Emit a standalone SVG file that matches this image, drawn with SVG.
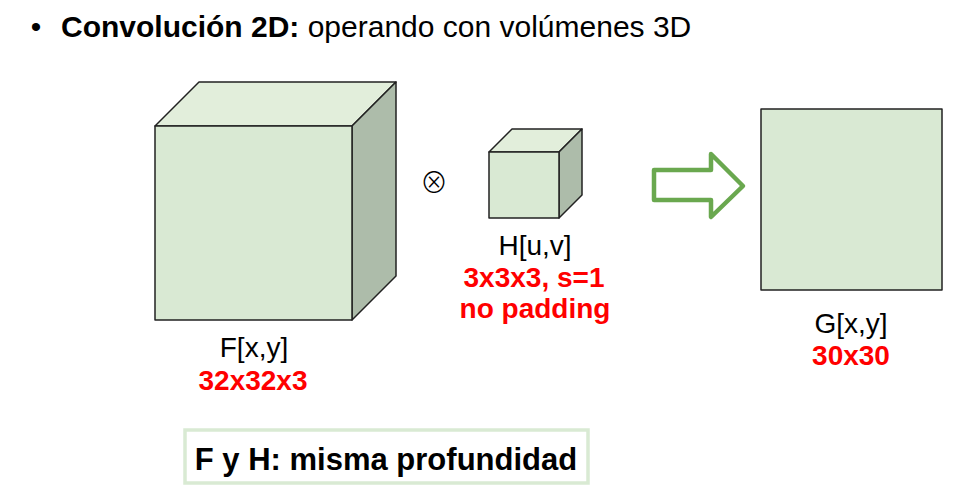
<svg xmlns="http://www.w3.org/2000/svg" width="953" height="490" viewBox="0 0 953 490">
<style>
.front{fill:#d9e9d3;stroke:#222;stroke-width:1.5;stroke-linejoin:round}
.top{fill:#e2eedb;stroke:#222;stroke-width:1.5;stroke-linejoin:round}
.side{fill:#adbcaa;stroke:#222;stroke-width:1.5;stroke-linejoin:round}
.lbl{font-family:"Liberation Sans",Arial,sans-serif;font-size:28px;fill:#000;text-anchor:middle}
.red{font-family:"Liberation Sans",Arial,sans-serif;font-size:28px;font-weight:bold;fill:#ff0000;text-anchor:middle}
</style>
<rect width="953" height="490" fill="#fff"/>
<g id="title">
<text x="36" y="37" font-family="Liberation Sans,Arial,sans-serif" font-size="30" text-anchor="middle">•</text>
<text x="61" y="37" font-family="Liberation Sans,Arial,sans-serif" font-size="30"><tspan font-weight="bold">Convolución 2D:</tspan> operando con volúmenes 3D</text>
</g>
<g id="F">
<polygon class="top" points="155,126 199,82 396,82 352,126"/>
<polygon class="side" points="352,126 396,82 396,276 352,320"/>
<rect class="front" x="155" y="126" width="197" height="194"/>
<text class="lbl" x="254" y="357">F[x,y]</text>
<text class="red" x="253" y="390">32x32x3</text>
</g>
<g id="op">
<text x="434" y="193" font-family="Noto Sans CJK JP,DejaVu Sans,sans-serif" font-weight="300" font-size="28" text-anchor="middle">⊗</text>
</g>
<g id="H">
<polygon class="top" points="489,152 512,129 582,129 559,152"/>
<polygon class="side" points="559,152 582,129 582,195 559,218"/>
<rect class="front" x="489" y="152" width="70" height="66"/>
<text class="lbl" x="535" y="255">H[u,v]</text>
<text class="red" x="534" y="287">3x3x3, s=1</text>
<text class="red" x="535" y="318">no padding</text>
</g>
<g id="connectors">
<polygon points="654,170 711,170 711,154 743,186 711,217 711,200 654,200" fill="none" stroke="#6aa84f" stroke-width="4.5" stroke-linejoin="round"/>
</g>
<g id="G">
<rect class="front" x="761" y="109" width="181" height="181"/>
<text class="lbl" x="851" y="333">G[x,y]</text>
<text class="red" x="851" y="365">30x30</text>
</g>
<g id="note">
<rect x="185" y="430" width="403" height="53" fill="none" stroke="#d9ead3" stroke-width="3.5"/>
<text x="386" y="470" font-family="Liberation Sans,Arial,sans-serif" font-size="31" font-weight="bold" text-anchor="middle">F y H: misma profundidad</text>
</g>
</svg>
